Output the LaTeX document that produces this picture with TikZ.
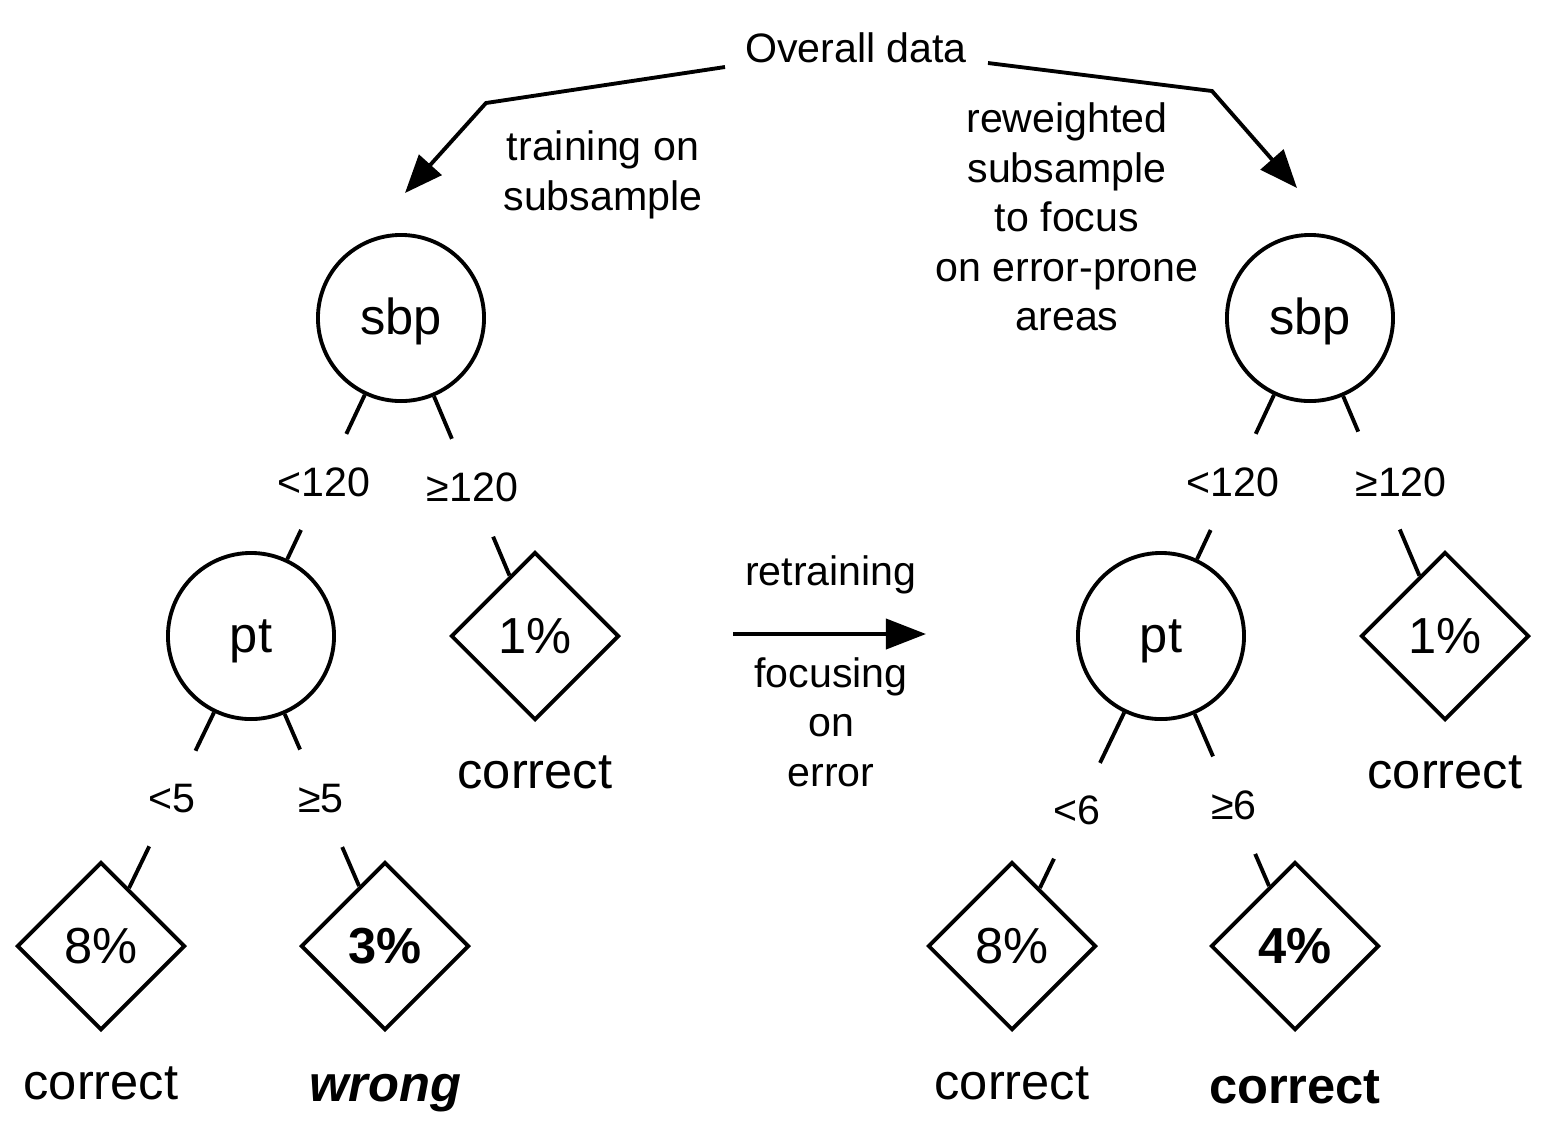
\documentclass[tikz,border=0pt]{standalone}
\usepackage{fontspec}
\setmainfont{Liberation Sans}
\usetikzlibrary{arrows.meta, positioning, shapes.geometric}

\begin{document}
\begin{tikzpicture}[
    x=0.01cm, y=-0.01cm,
    line width=1.1pt,
    small/.style={font=\fontsize{11.7}{14.1}\selectfont},
    note/.style={small, align=center},
    big/.style={font=\fontsize{14.4}{17}\selectfont},
    split/.style={circle, draw, minimum size=1.66cm, inner sep=0pt, big, text height=12.1pt, text depth=3pt},
    leaf/.style={diamond, draw, minimum width=1.68cm, minimum height=1.68cm, inner sep=0pt, big},
    cond/.style={circle, fill=white, minimum size=1.06cm, inner sep=0pt, small},
    arr/.style={-{Triangle[length=0.38cm, width=0.3cm]}}
]
    \useasboundingbox (0,0) rectangle (1545,1141);

    \node[small, anchor=base] (overall) at (856,62) {Overall data};
    \node[note] (subA) at (603,175) {training on\\subsample};
    \node[note] (subB) at (1067,217) {reweighted\\subsample\\to focus\\on error-prone\\areas};

    \coordinate (fromA) at (725,67);
    \coordinate (bendA) at (486,103);
    \coordinate (tipA) at (405,193);
    \coordinate (fromB) at (988,63);
    \coordinate (bendB) at (1212,91);
    \coordinate (tipB) at (1297,188);
    \draw[arr] (fromA) -- (bendA) -- (tipA);
    \draw[arr] (fromB) -- (bendB) -- (tipB);

    % first tree
    \node[split] (sbpA) at (401,318) {sbp};
    \node[split] (ptA) at (251,636) {pt};
    \node[leaf] (oneA) at (535,636) {1\%};
    \node[leaf] (eightA) at (101,946) {8\%};
    \node[leaf] (threeA) at (385,946) {\bfseries 3\%};

    \draw (sbpA) -- node[cond, pos=0.53] (ltA) {<120} (ptA);
    \draw (sbpA) -- node[cond, pos=0.51] (geA) {≥120} (oneA);
    \draw (ptA) -- node[cond, pos=0.49] (ltA2) {<5} (eightA);
    \draw (ptA) -- node[cond, pos=0.49] (geA2) {≥5} (threeA);

    \node[big, anchor=base] (resA1) at (535,788) {correct};
    \node[big, anchor=base] (resA2) at (101,1099) {correct};
    \node[big, anchor=base] (resA3) at (385,1101) {\bfseries\itshape wrong};

    % retraining step
    \node[small, anchor=base] (retrain) at (831,585) {retraining};
    \node[note] (focus) at (831,722) {focusing\\on\\error};
    \coordinate (midA) at (733,634);
    \coordinate (midB) at (926,634);
    \draw[-{Triangle[length=0.4cm, width=0.3cm]}] (midA) -- (midB);

    % second tree
    \node[split] (sbpB) at (1310,318) {sbp};
    \node[split] (ptB) at (1161,636) {pt};
    \node[leaf] (oneB) at (1445,636) {1\%};
    \node[leaf] (eightB) at (1012,946) {8\%};
    \node[leaf] (fourB) at (1295,946) {\bfseries 4\%};

    \draw (sbpB) -- node[cond, pos=0.53] (ltB) {<120} (ptB);
    \draw (sbpB) -- node[cond, pos=0.47] (geB) {} (oneB);
    \node[small] (geBtext) at ([xshift=0.22cm, yshift=-0.02cm]geB) {≥120};
    \draw (ptB) -- node[cond, pos=0.56] (ltB2) {<6} (eightB);
    \draw (ptB) -- node[cond, pos=0.53] (geB2) {≥6} (fourB);

    \node[big, anchor=base] (resB1) at (1445,788) {correct};
    \node[big, anchor=base] (resB2) at (1012,1099) {correct};
    \node[big, anchor=base] (resB3) at (1295,1103) {\bfseries correct};
\end{tikzpicture}
\end{document}
